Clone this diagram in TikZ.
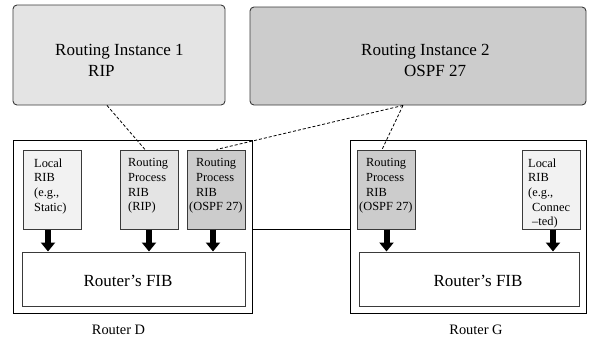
\documentclass[tikz,border=0pt]{standalone}
\usepackage{fontspec}
\setmainfont{Liberation Serif}
\usetikzlibrary{arrows.meta}
\definecolor{gA}{HTML}{E4E4E4}
\definecolor{gB}{HTML}{CCCCCC}
\definecolor{gC}{HTML}{F2F2F2}
\definecolor{edge}{HTML}{3A3A3A}
\begin{document}
\begin{tikzpicture}[x=1bp,y=-1bp,
  inst/.style={draw=edge, rounded corners=4bp, line width=0.9bp, inner sep=0},
  router/.style={draw=black, line width=1bp, fill=white, inner sep=0, minimum height=173bp},
  rib/.style={draw=edge, line width=1bp, inner sep=0, minimum width=58bp, minimum height=79bp},
  fib/.style={draw=edge, line width=1bp, fill=white, inner sep=0, minimum height=54bp},
  bigtext/.style={inner sep=0, align=left, font=\fontsize{17bp}{21.3bp}\selectfont},
  ribtext/.style={inner sep=0, align=left, font=\fontsize{12.4bp}{14.6bp}\selectfont},
  fibtext/.style={inner sep=0, font=\fontsize{17bp}{20bp}\selectfont},
  lbl/.style={inner sep=0, font=\fontsize{14.4bp}{17bp}\selectfont},
  link/.style={line width=0.8bp, dash pattern=on 3bp off 2bp},
  blockarrow/.style={line width=6bp, -{Triangle[width=14bp,length=9bp]}}
]
\useasboundingbox (0,0) rectangle (590,341);

% routing instances
\node[inst, fill=gA, minimum width=212bp, minimum height=100bp] (inst1) at (119,55) {};
\node[inst, fill=gB, minimum width=336bp, minimum height=98bp] (inst2) at (418,56) {};
\node[bigtext, anchor=north west] (inst1t) at (55,44) {Routing Instance 1\\\hspace*{33bp}RIP};
\node[bigtext, anchor=north west] (inst2t) at (361,44) {Routing Instance 2\\\hspace*{43bp}OSPF 27};

% routers
\node[router, minimum width=238bp] (rD) at (133,226.5) {};
\node[router, minimum width=236bp] (rG) at (468,226.5) {};

% RIBs
\node[rib, fill=gC] (localD) at (52,189.5) {};
\node[rib, fill=gA] (ripD) at (149,189.5) {};
\node[rib, fill=gB] (ospfD) at (216.5,189.5) {};
\node[rib, fill=gB] (ospfG) at (386.5,189.5) {};
\node[rib, fill=gC] (localG) at (551,189.5) {};

\node[ribtext, anchor=north west] (localDt) at (34,158.5) {Local\\RIB\\(e.g.,\\Static)};
\node[ribtext, anchor=north west] (ripDt) at (128,158.5) {Routing\\Process\\RIB\\(RIP)};
\node[ribtext, anchor=north west] (ospfDt) at (196,158.5) {Routing\\Process\\RIB\\\hspace*{-7bp}(OSPF 27)};
\node[ribtext, anchor=north west] (ospfGt) at (366,158.5) {Routing\\Process\\RIB\\\hspace*{-7bp}(OSPF 27)};
\node[ribtext, anchor=north west] (localGt) at (528,158.5) {Local\\RIB\\(e.g.,\\\hspace*{4bp}Connec\\\hspace*{4bp}--ted)};

% FIBs
\node[fib, minimum width=222bp] (fibD) at (134,279) {};
\node[fib, minimum width=220bp] (fibG) at (469,279) {};
\node[fibtext, anchor=base] (fibDt) at (128,286.5) {Router's FIB};
\node[fibtext, anchor=base] (fibGt) at (478,286.5) {Router's FIB};

% labels
\node[lbl, anchor=base] (lD) at (118.5,334) {Router D};
\node[lbl, anchor=base] (lG) at (476,334) {Router G};

% arrows
\draw[blockarrow] ([xshift=-4bp]localD.south) -- ([xshift=-4bp]localD.south |- fibD.north);
\draw[blockarrow] (ripD.south) -- (ripD.south |- fibD.north);
\draw[blockarrow] ([xshift=-3.5bp]ospfD.south) -- ([xshift=-3.5bp]ospfD.south |- fibD.north);
\draw[blockarrow] (ospfG.south) -- (ospfG.south |- fibG.north);
\draw[blockarrow] ([xshift=2bp]localG.south) -- ([xshift=2bp]localG.south |- fibG.north);

% router link
\draw[line width=1bp] (ospfD.south -| rD.east) -- (ospfD.south -| rG.west);

% dashed associations
\draw[link] ([xshift=-12bp]inst1.south) -- ([xshift=-4bp]ripD.north);
\draw[link] ([xshift=-15bp]inst2.south) -- (ospfD.north);
\draw[link] ([xshift=-15bp]inst2.south) -- ([xshift=-4.5bp]ospfG.north);
\end{tikzpicture}
\end{document}
